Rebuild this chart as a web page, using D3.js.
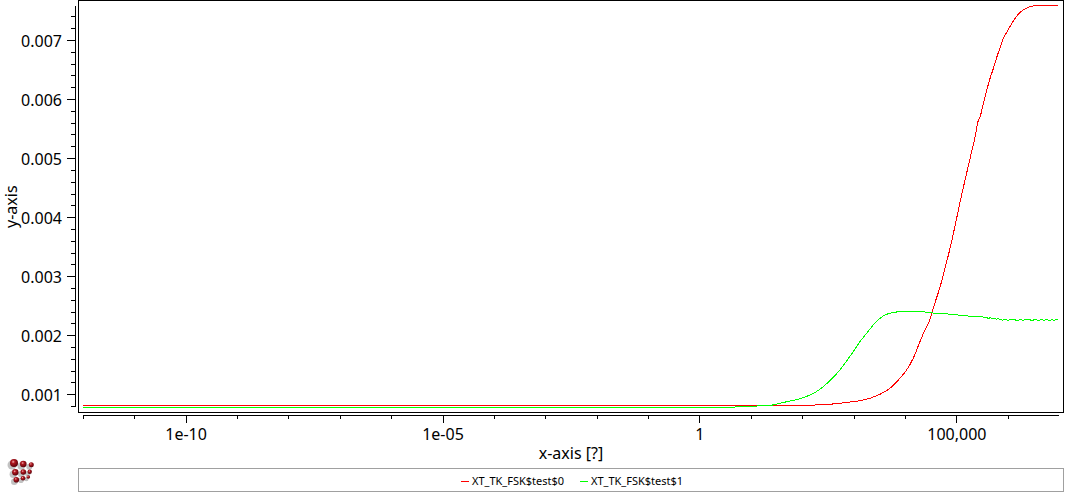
<!DOCTYPE html>
<html><head><meta charset="utf-8">
<script src="https://cdn.jsdelivr.net/npm/d3@7/dist/d3.min.js"></script>
<style>html,body{margin:0;padding:0;background:#fff;overflow:hidden}svg{display:block}text{font-family:"Noto Sans",sans-serif;fill:#000}</style>
</head><body><svg id="c" width="1065" height="493"></svg>
<script>
const seriesNames = ["XT_TK_FSK$test$0", "XT_TK_FSK$test$1"];
const seriesColors = ["#ff0000", "#00ff00"];
const yTicks = [0.001,0.002,0.003,0.004,0.005,0.006,0.007];
const xTickExps = [-10,-5,0,5];
const xTickLabels = ["1e-10","1e-05","1","100,000"];
const xMinorExps = [-12,-11,-9,-8,-7,-6,-4,-3,-2,-1,1,2,3,4,6];
const yMinor = [0.0008,0.0012,0.0014,0.0016,0.0018,0.0022,0.0024,0.0026,0.0028,0.0032,0.0034,0.0036,0.0038,0.0042,0.0044,0.0046,0.0048,0.0052,0.0054,0.0056,0.0058,0.0062,0.0064,0.0066,0.0068,0.0072,0.0074];

const redExp = [-12,2.1,2.345,2.670,2.929,3.123,3.317,3.512,3.706,3.901,4.032,4.160,4.291,4.388,4.472,4.580,4.684,4.781,4.879,4.976,5.073,5.171,5.268,5.365,5.429,5.462,5.526,5.592,5.656,5.721,5.787,5.851,5.915,5.982,6.079,6.176,6.273,6.371,6.493,6.577,6.978];
const redVal = [0.000814,0.000814,0.000824,0.000841,0.00087,0.000892,0.000933,0.001,0.001102,0.001271,0.001412,0.00161,0.001891,0.00209,0.002231,0.002541,0.002822,0.003145,0.00348,0.00386,0.00426,0.00464,0.005,0.005362,0.005645,0.005701,0.005928,0.006153,0.006351,0.00652,0.00671,0.00687,0.007029,0.007131,0.007283,0.007407,0.007491,0.007542,0.007576,0.007588,0.007588];

const greenExp = [-12,0.69,0.70,1.12,1.13,1.37,1.566,1.761,1.956,2.150,2.345,2.539,2.734,2.864,2.993,3.123,3.254,3.382,3.512,3.643,3.837,4.032,4.227,4.544,4.830,5.219,5.458,5.50,5.54,5.58,5.62,5.66,5.70,5.74,5.78,5.82,5.86,5.90,5.94,5.98,6.02,6.06,6.10,6.14,6.18,6.22,6.26,6.30,6.34,6.38,6.42,6.46,6.50,6.54,6.58,6.62,6.66,6.70,6.74,6.78,6.82,6.86,6.90,6.94,6.978];
const greenVal = [0.00078,0.00078,0.000797,0.000797,0.000814,0.000814,0.000848,0.000887,0.000925,0.000988,0.001085,0.00123,0.001412,0.001564,0.001721,0.001891,0.002033,0.002174,0.002287,0.002355,0.002394,0.002406,0.002406,0.002377,0.00236,0.002326,0.002309,0.002315,0.002298,0.002309,0.002281,0.002298,0.002275,0.002292,0.002275,0.002281,0.002264,0.002258,0.002264,0.002258,0.002258,0.002275,0.002258,0.002264,0.002241,0.002258,0.002269,0.002252,0.002275,0.002258,0.002269,0.002247,0.002258,0.002275,0.002252,0.002258,0.002275,0.002247,0.002269,0.002258,0.002247,0.002269,0.002252,0.002269,0.002258];

const svg = d3.select("#c");
const x = d3.scaleLog().domain([1e-12, 9.5e6]).range([82.8, 1058]);
const y = d3.scaleLinear().domain([0.000802, 0.007593]).range([406, 5]);
const TICK_FONT = 16;

// frame
svg.append("rect").attr("x",78.5).attr("y",0.5).attr("width",985).attr("height",412)
  .attr("fill","#fff").attr("stroke","#000").attr("shape-rendering","crispEdges");

// axes
const gx = svg.append("g").attr("transform","translate(0,415)")
  .call(d3.axisBottom(x).tickValues(xTickExps.map(e=>Math.pow(10,e))).tickSize(8).tickSizeOuter(0).tickPadding(6)
    .tickFormat((d,i)=>xTickLabels[i]));
const gxm = svg.append("g").attr("transform","translate(0,415)")
  .call(d3.axisBottom(x).tickValues(xMinorExps.map(e=>Math.pow(10,e))).tickSize(4).tickSizeOuter(0).tickFormat(""));
const gy = svg.append("g").attr("transform","translate(75,0)")
  .call(d3.axisLeft(y).tickValues(yTicks).tickSize(8).tickSizeOuter(0).tickPadding(5).tickFormat(d3.format(".3f")));
const gym = svg.append("g").attr("transform","translate(75,0)")
  .call(d3.axisLeft(y).tickValues(yMinor).tickSize(4).tickSizeOuter(0).tickFormat(""));
[gx,gxm,gy,gym].forEach(g=>{
  g.attr("font-family",null).attr("font-size",null);
  g.selectAll("text").style("font-size",TICK_FONT+"px");
  g.selectAll("line,path").attr("stroke","#000").attr("shape-rendering","crispEdges");
});
gy.selectAll("text").attr("dy","0.4em");

// series
const line = d3.line().x(d=>x(Math.pow(10,d[0]))).y(d=>y(d[1])).curve(d3.curveMonotoneX);
[[redExp,redVal],[greenExp,greenVal]].forEach(([ex,va],i)=>{
  svg.append("path").attr("d",line(ex.map((e,j)=>[e,va[j]])))
    .attr("fill","none").attr("stroke",seriesColors[i]).attr("stroke-width",1)
    .attr("shape-rendering","crispEdges");
});

// titles
svg.append("text").attr("x",571).attr("y",459).attr("text-anchor","middle").style("font-size","16px").text("x-axis [?]");
svg.append("text").attr("transform","translate(17,206.7) rotate(-90)").attr("text-anchor","middle").style("font-size","16px").text("y-axis");

// legend
svg.append("rect").attr("x",78.5).attr("y",468.5).attr("width",985).attr("height",23)
  .attr("fill","#fff").attr("stroke","#a0a0a0").attr("shape-rendering","crispEdges");
const legendX = [461,580];
seriesNames.forEach((n,i)=>{
  svg.append("line").attr("x1",legendX[i]).attr("x2",legendX[i]+8).attr("y1",481.5).attr("y2",481.5)
    .attr("stroke",seriesColors[i]).attr("shape-rendering","crispEdges");
  svg.append("text").attr("x",legendX[i]+11).attr("y",485).style("font-size","11px").text(n);
});

// logo
const defs = svg.append("defs");
const grad = defs.append("radialGradient").attr("id","ball").attr("cx","0.4").attr("cy","0.35").attr("r","0.7");
grad.append("stop").attr("offset","0").attr("stop-color","#f0b0b0");
grad.append("stop").attr("offset","0.3").attr("stop-color","#b01820");
grad.append("stop").attr("offset","1").attr("stop-color","#500008");
const logoBalls = [[14,463,4],[23.3,464,3.3],[31.3,464.7,2.5],[15.3,472.3,3.2],[23.3,472,2.8],[29.7,471.7,2.2],[16.3,479.7,2.8],[23,478.3,2.3],[28.3,477,1.8]];
const logo = svg.append("g");
logo.selectAll(".s").data(logoBalls).join("circle").attr("cx",d=>d[0]-2).attr("cy",d=>d[1]+2).attr("r",d=>d[2]+0.5).attr("fill","#999").attr("opacity",0.6);
logo.selectAll(".b").data(logoBalls).join("circle").attr("cx",d=>d[0]).attr("cy",d=>d[1]).attr("r",d=>d[2]).attr("fill","url(#ball)");
</script></body></html>
